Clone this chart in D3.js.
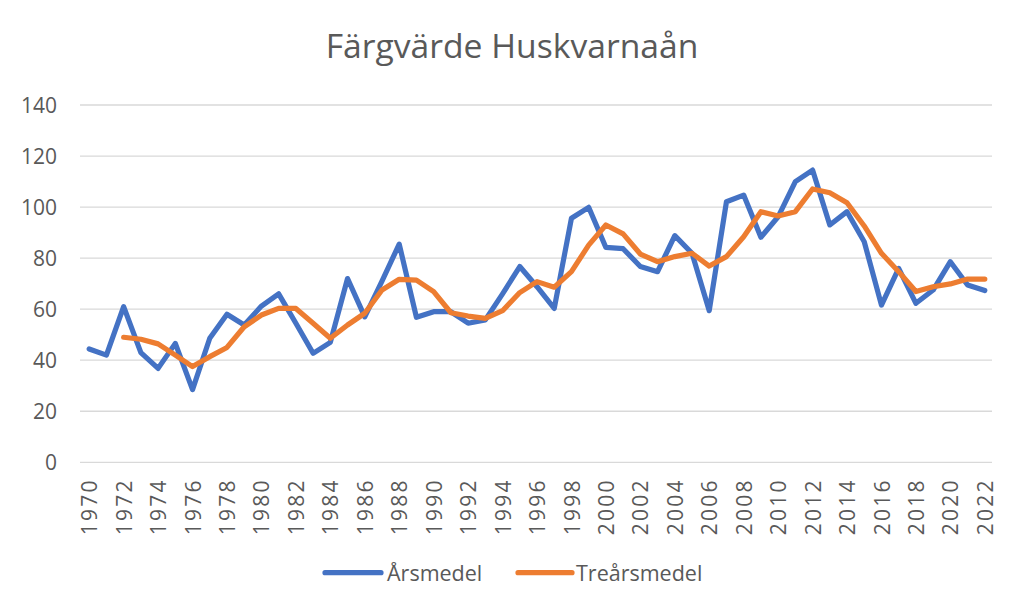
<!DOCTYPE html>
<html>
<head>
<meta charset="utf-8">
<script src="https://cdn.jsdelivr.net/npm/d3@7/dist/d3.min.js"></script>
<style>
  html, body { margin: 0; padding: 0; background: #fff; }
  svg { display: block; }
  text { font-family: "Open Sans", "Noto Sans", sans-serif; fill: #595959; }
</style>
</head>
<body>
<svg id="chart" width="1024" height="614"></svg>
<script>
const years = d3.range(1970, 2023);
const arsmedel = [44.4, 42.0, 61.0, 43.0, 36.8, 46.6, 28.5, 48.6, 58.0, 53.8,
  61.2, 66.0, 54.5, 42.7, 47.0, 72.0, 57.0, 71.0, 85.5, 56.8,
  59.0, 59.0, 54.5, 55.8, 66.0, 76.7, 68.8, 60.3, 95.6, 99.9,
  84.2, 83.7, 76.7, 74.7, 88.8, 81.9, 59.4, 102.1, 104.7, 88.2,
  96.2, 110.0, 114.5, 93.0, 98.2, 86.4, 61.6, 76.0, 62.3, 67.5,
  78.6, 69.5, 67.3];
const trearsmedel = [null, null, 49.0, 48.2, 46.4, 42.0, 37.5, 41.4, 45.0, 53.1,
  57.7, 60.3, 60.3, 54.5, 48.6, 53.8, 58.4, 67.5, 71.7, 71.4,
  66.9, 58.6, 57.3, 56.4, 59.4, 66.5, 70.8, 68.6, 74.7, 85.1,
  93.0, 89.5, 81.6, 78.6, 80.6, 81.9, 76.9, 80.6, 88.4, 98.2,
  96.5, 98.2, 107.1, 105.6, 101.7, 92.6, 81.9, 74.7, 66.9, 68.8,
  69.9, 71.8, 71.8];
const yTicks = [0, 20, 40, 60, 80, 100, 120, 140];
const xTickYears = years.filter(y => (y - 1970) % 2 === 0);
const seriesNames = ["Årsmedel", "Treårsmedel"];
const colors = ["#4472C4", "#ED7D31"];
const titleText = "Färgvärde Huskvarnaån";

const svg = d3.select("#chart");
const plot = { left: 80, right: 992, top: 105, bottom: 462.3 };

const x = d3.scaleLinear().domain([1970, 2022]).range([89.2, 984.8]);
const y = d3.scaleLinear().domain([0, 140]).range([plot.bottom, plot.top]);

// Title
const title = svg.append("text")
  .attr("x", 512).attr("y", 58)
  .attr("text-anchor", "middle")
  .style("font-size", "100px")
  .text(titleText);
const tw = title.node().getComputedTextLength();
title.style("font-size", (100 * 373 / tw) + "px");

// Gridlines
svg.append("g").selectAll("line").data(yTicks).join("line")
  .attr("x1", plot.left).attr("x2", plot.right)
  .attr("y1", d => y(d)).attr("y2", d => y(d))
  .attr("stroke", "#d9d9d9").attr("stroke-width", 1.3);

// Y axis labels
const yAxis = d3.axisLeft(y).tickValues(yTicks).tickSize(0).tickPadding(0);
const gy = svg.append("g").attr("transform", "translate(57,0)").call(yAxis);
gy.select(".domain").remove();
gy.selectAll("text").style("font-size", "21px").style("font-family", null).attr("fill", null).attr("dy", "0.35em");

// X axis labels
const xAxis = d3.axisBottom(x).tickValues(xTickYears).tickSize(0).tickFormat(d3.format("d"));
const gx = svg.append("g").attr("transform", `translate(0,${plot.bottom})`).call(xAxis);
gx.select(".domain").remove();
gx.selectAll("text")
  .style("font-size", "21px").style("font-family", null).attr("fill", null)
  .style("letter-spacing", "2.2px")
  .attr("transform", "rotate(-90)")
  .attr("x", -16).attr("y", 0).attr("dy", "0.36em")
  .attr("text-anchor", "end");

// Lines
const line = d3.line()
  .defined(d => d[1] !== null)
  .x(d => x(d[0])).y(d => y(d[1]))
  .curve(d3.curveLinear);

[arsmedel, trearsmedel].forEach((vals, i) => {
  svg.append("path")
    .datum(years.map((yr, j) => [yr, vals[j]]))
    .attr("d", line)
    .attr("fill", "none")
    .attr("stroke", colors[i])
    .attr("stroke-width", 5.2)
    .attr("stroke-linejoin", "round")
    .attr("stroke-linecap", "round");
});

// Legend
const legendItems = [
  { name: seriesNames[0], color: colors[0], x1: 325, x2: 381, tx: 387 },
  { name: seriesNames[1], color: colors[1], x1: 518, x2: 572, tx: 576 }
];
const lg = svg.append("g");
legendItems.forEach(it => {
  lg.append("line")
    .attr("x1", it.x1).attr("x2", it.x2)
    .attr("y1", 572.7).attr("y2", 572.7)
    .attr("stroke", it.color).attr("stroke-width", 5.2)
    .attr("stroke-linecap", "round");
  lg.append("text")
    .attr("x", it.tx).attr("y", 580.5)
    .style("font-size", "21.5px")
    .text(it.name);
});
</script>
</body>
</html>
